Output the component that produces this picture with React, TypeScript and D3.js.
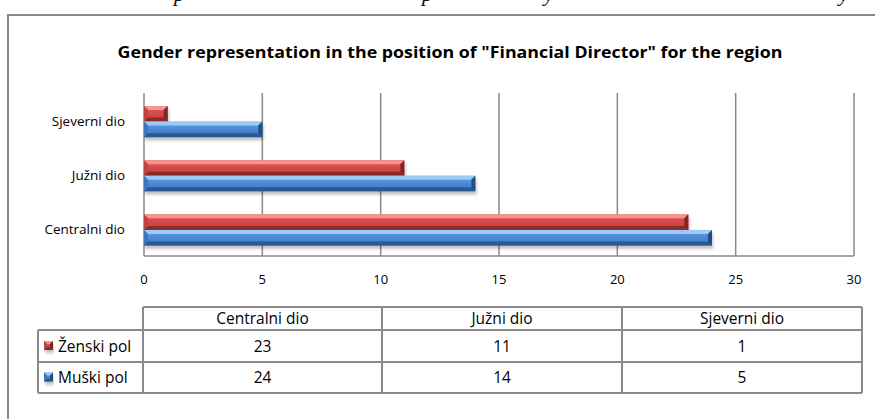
import React from "react";
import * as d3 from "d3";

const categories = ["Centralni dio", "Južni dio", "Sjeverni dio"];
const seriesNames = ["Ženski pol", "Muški pol"];
const zenskiValues = [23, 11, 1];
const muskiValues = [24, 14, 5];
const xTicks = [0, 5, 10, 15, 20, 25, 30];
const title = 'Gender representation in the position of "Financial Director" for the region';

const W = 875;
const H = 419;
const FONT = "'Open Sans', 'Noto Sans', sans-serif";

const palettes = [
  { mid1: "#E65957", mid2: "#C03C3A", top: "#F59391", bottom: "#8E2A28", right: "#7E2624", left: "#B84442" },
  { mid1: "#5E9EE8", mid2: "#3B74BE", top: "#9CCBF7", bottom: "#2C5894", right: "#264D82", left: "#3F74B8" },
];

function Bevel({ x0, x1, y0, y1, p, id }: any) {
  const h = y1 - y0;
  const b = Math.min(4, h / 3, Math.max(0, (x1 - x0) / 2));
  const pts = (a: number[][]) => a.map((q) => q.join(",")).join(" ");
  return (
    <g filter="url(#shadow)">
      <rect x={x0} y={y0} width={Math.max(0, x1 - x0)} height={h} fill={`url(#${id})`} />
      <polygon points={pts([[x0, y0], [x1, y0], [x1 - b, y0 + b], [x0 + b, y0 + b]])} fill={p.top} />
      <polygon points={pts([[x0, y1], [x1, y1], [x1 - b, y1 - b], [x0 + b, y1 - b]])} fill={p.bottom} />
      <polygon points={pts([[x1, y0], [x1, y1], [x1 - b, y1 - b], [x1 - b, y0 + b]])} fill={p.right} />
      <polygon points={pts([[x0, y0], [x0, y1], [x0 + b, y1 - b], [x0 + b, y0 + b]])} fill={p.left} />
    </g>
  );
}

export default function App() {
  const plotTop = 93;
  const plotBottom = 256;
  const x = d3.scaleLinear().domain([0, 30]).range([144, 854]);
  const y = d3
    .scaleBand<string>()
    .domain([...categories].reverse())
    .range([plotTop + 1.5, plotBottom + 1])
    .paddingInner(0.426)
    .paddingOuter(0.213);
  const ySub = d3.scaleBand<number>().domain([0, 1]).range([0, y.bandwidth()]);
  const values = [zenskiValues, muskiValues];

  // table geometry
  const colEdges = [143, 382, 622, 862];
  const legendLeft = 38;
  const rowEdges = [307, 330, 362, 393];
  const gridColor = "#8a8a8a";

  return (
    <svg
      width={W}
      height={H}
      style={{ position: "absolute", left: 0, top: 0, background: "#fff" }}
      fontFamily={FONT}
    >
      <defs>
        {palettes.map((p, i) => (
          <linearGradient key={i} id={`g${i}`} x1="0" y1="0" x2="0" y2="1">
            <stop offset="0" stopColor={p.mid1} />
            <stop offset="1" stopColor={p.mid2} />
          </linearGradient>
        ))}
        <filter id="shadow" x="-10%" y="-30%" width="120%" height="190%">
          <feGaussianBlur in="SourceAlpha" stdDeviation="1.8" />
          <feOffset dx="1" dy="3" result="b" />
          <feComponentTransfer>
            <feFuncA type="linear" slope="0.25" />
          </feComponentTransfer>
          <feMerge>
            <feMergeNode />
            <feMergeNode in="SourceGraphic" />
          </feMerge>
        </filter>
      </defs>

      {/* fragments of the document text above the chart */}
      <g fontFamily="'Liberation Serif', 'DejaVu Serif', serif" fontStyle="italic" fontSize={22} fill="#111">
        <text x={174} y={1}>p</text>
        <text x={422} y={1}>p</text>
        <text x={544} y={1}>y</text>
        <text x={839} y={1}>y</text>
      </g>

      {/* chart frame */}
      <rect x={8} y={15} width={900} height={450} fill="none" stroke="#8a8a8a" strokeWidth={2} />

      <text
        x={450}
        y={58}
        textAnchor="middle"
        fontWeight="bold"
        fontSize={16.5}
        fill="#000"
        textLength={665}
        lengthAdjust="spacingAndGlyphs"
      >
        {title}
      </text>

      {/* gridlines */}
      {xTicks.map((t) => (
        <line key={t} x1={x(t)} x2={x(t)} y1={plotTop} y2={plotBottom} stroke={gridColor} strokeWidth={1.5} />
      ))}
      <line x1={x(0)} x2={x(30)} y1={plotBottom} y2={plotBottom} stroke={gridColor} strokeWidth={1.5} />

      {/* bars */}
      {categories.map((c, ci) =>
        values.map((vals, si) => {
          const y0 = (y(c) as number) + (ySub(si) as number);
          return (
            <Bevel
              key={c + si}
              x0={x(0)}
              x1={x(vals[ci])}
              y0={y0}
              y1={y0 + ySub.bandwidth()}
              p={palettes[si]}
              id={`g${si}`}
            />
          );
        })
      )}

      {/* category labels */}
      {categories.map((c) => (
        <text
          key={c}
          x={125}
          y={(y(c) as number) + y.bandwidth() / 2 + 4.5}
          textAnchor="end"
          fontSize={13.5}
          fill="#000"
        >
          {c}
        </text>
      ))}

      {/* x tick labels */}
      {xTicks.map((t) => (
        <text key={t} x={x(t)} y={284} textAnchor="middle" fontSize={13} fill="#000">
          {t}
        </text>
      ))}

      {/* data table */}
      <g stroke={gridColor} strokeWidth={2} fill="none">
        <line x1={colEdges[0]} x2={colEdges[3]} y1={rowEdges[0]} y2={rowEdges[0]} />
        <line x1={legendLeft} x2={colEdges[3]} y1={rowEdges[1]} y2={rowEdges[1]} />
        <line x1={legendLeft} x2={colEdges[3]} y1={rowEdges[2]} y2={rowEdges[2]} />
        <line x1={legendLeft} x2={colEdges[3]} y1={rowEdges[3]} y2={rowEdges[3]} />
        <line x1={legendLeft} x2={legendLeft} y1={rowEdges[1]} y2={rowEdges[3]} />
        {colEdges.map((ce) => (
          <line key={ce} x1={ce} x2={ce} y1={rowEdges[0]} y2={rowEdges[3]} />
        ))}
      </g>
      {categories.map((c, ci) => (
        <text
          key={c}
          x={(colEdges[ci] + colEdges[ci + 1]) / 2}
          y={rowEdges[0] + 17}
          textAnchor="middle"
          fontSize={15.5}
          fill="#000"
        >
          {c}
        </text>
      ))}
      {values.map((vals, si) => (
        <g key={si}>
          <Bevel
            x0={44}
            x1={53}
            y0={(rowEdges[si + 1] + rowEdges[si + 2]) / 2 - 5}
            y1={(rowEdges[si + 1] + rowEdges[si + 2]) / 2 + 4}
            p={palettes[si]}
            id={`g${si}`}
          />
          <text
            x={58}
            y={(rowEdges[si + 1] + rowEdges[si + 2]) / 2 + 5.5}
            fontSize={15.5}
            fill="#000"
          >
            {seriesNames[si]}
          </text>
          {vals.map((v, ci) => (
            <text
              key={ci}
              x={(colEdges[ci] + colEdges[ci + 1]) / 2}
              y={(rowEdges[si + 1] + rowEdges[si + 2]) / 2 + 5.5}
              textAnchor="middle"
              fontSize={15.5}
              fill="#000"
            >
              {v}
            </text>
          ))}
        </g>
      ))}
    </svg>
  );
}
